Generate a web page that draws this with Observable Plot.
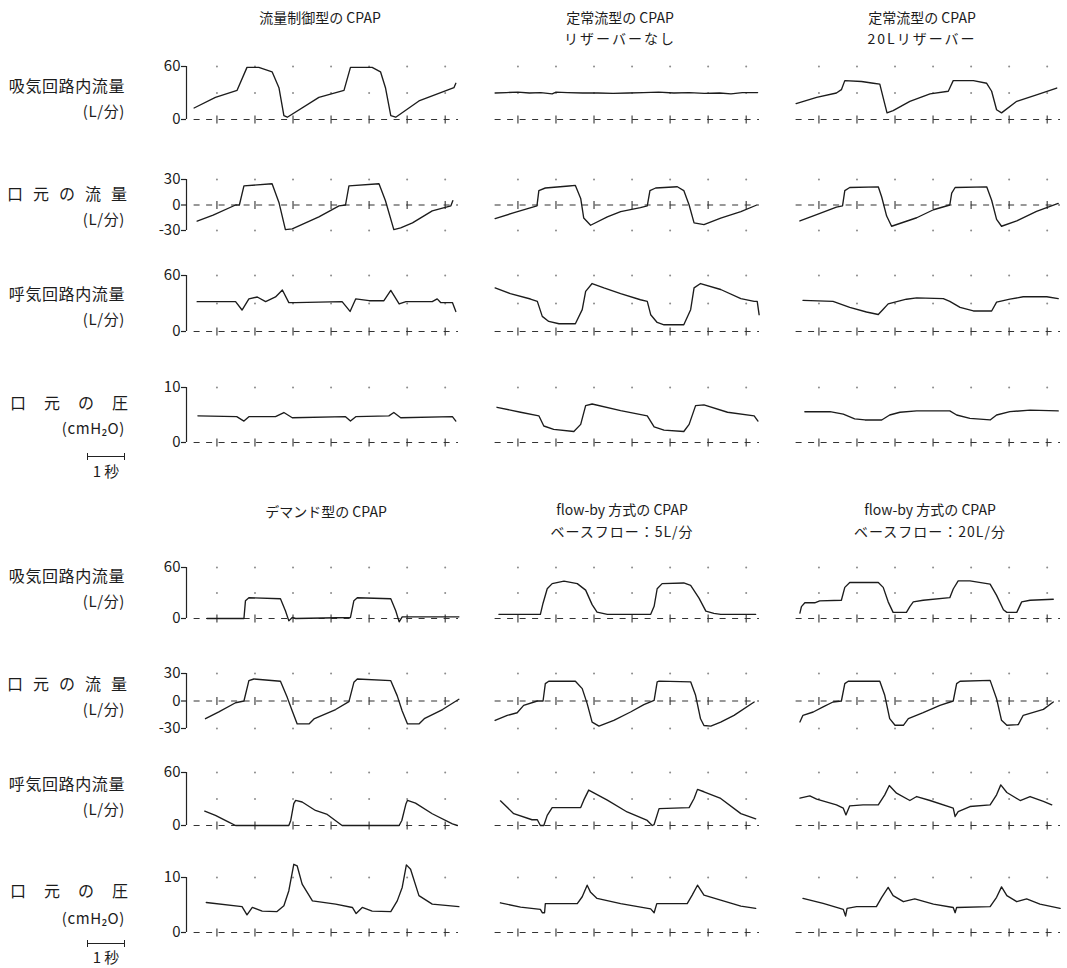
<!DOCTYPE html>
<html><head><meta charset="utf-8">
<script src="https://cdn.jsdelivr.net/npm/d3@7"></script>
<script src="https://cdn.jsdelivr.net/npm/@observablehq/plot@0.6"></script>
<style>
body{margin:0;background:#fff;}
#root{position:relative;width:1067px;height:968px;font-family:"Noto Sans CJK JP","Noto Sans",sans-serif;color:#1c1c1c;overflow:hidden;}
.t{position:absolute;white-space:nowrap;transform:translate(-50%,-50%);font-size:14px;line-height:1;}
.lab{position:absolute;white-space:nowrap;transform:translateY(-50%);right:942px;font-size:16px;line-height:1;letter-spacing:0.6px;}
.sp{position:absolute;transform:translateY(-50%);display:flex;justify-content:space-between;font-size:16px;line-height:1;}
.row{position:absolute;left:0;}
.bar{position:absolute;height:0;border-top:1.2px solid #222;}
.bar:before,.bar:after{content:"";position:absolute;top:-4px;height:7px;border-left:1.2px solid #222;}
.bar:before{left:0}.bar:after{right:0}
</style></head>
<body><div id="root"></div>
<script>
// ---- time ticks (s) along the zero line ----
const secTicks = [0.6,1.6,2.6,3.6,4.6,5.6,6.6];

// ---- Group 1: 流量制御型 (fc), 定常流型リザーバーなし (cfn), 定常流型20Lリザーバー (cfr) ----
const fcInsp = [[0,13],[0.56,25],[1.13,33],[1.39,59],[1.70,59],[2.05,54],[2.23,36],[2.36,4.5],[2.45,2.6],[3.28,25],[3.94,33],[4.11,59],[4.68,59],[4.90,54],[5.03,36],[5.17,4.5],[5.30,2.6],[5.91,21],[6.83,36],[6.88,41]];
const fcMouth = [[0.08,-19],[0.5,-12],[1.09,0],[1.19,0],[1.31,22.5],[2.05,25],[2.23,3],[2.40,-29],[2.58,-28],[3.28,-14],[3.81,-1],[3.98,0],[4.07,22.5],[4.86,25],[5.03,5],[5.25,-29],[5.43,-27],[5.74,-21],[6.26,-7],[6.75,-1],[6.80,5]];
const fcExp = [[0.08,32],[1.09,32],[1.26,23],[1.44,35],[1.66,37],[1.88,32],[2.14,37],[2.32,44.5],[2.49,31],[2.67,31],[3.89,32],[4.10,21.5],[4.25,35],[4.60,33],[4.99,33],[5.17,44],[5.39,29.5],[5.57,32],[6.26,32],[6.39,35],[6.48,31],[6.79,31],[6.88,21.5]];
const fcPres = [[0.1,4.85],[1.12,4.7],[1.31,3.9],[1.44,4.7],[2.14,4.7],[2.36,5.45],[2.58,4.5],[3.98,4.7],[4.11,3.9],[4.25,4.7],[5.12,4.85],[5.25,5.45],[5.43,4.5],[6.79,4.7],[6.88,3.9]];

const cfnInsp = [[0,30],[0.3,30.5],[0.6,31],[0.9,30],[1.2,30.5],[1.5,29],[1.6,31],[1.9,30.5],[2.3,30],[2.7,30],[3.1,29.5],[3.5,30],[3.9,30.5],[4.3,31],[4.7,30],[5.1,30.5],[5.5,29.5],[5.9,30],[6.2,29],[6.5,30.5],[6.9,30.5]];
const cfnMouth = [[0,-16],[0.5,-9],[1.1,-1],[1.15,17],[1.32,20],[1.94,22.3],[2.11,23],[2.25,7.7],[2.33,-15.4],[2.51,-23.8],[2.95,-14],[3.30,-7.7],[3.82,-3],[4.0,-1],[4.07,17],[4.22,20],[4.79,21.5],[4.96,17],[5.10,0],[5.23,-21],[5.49,-23],[5.93,-15.4],[6.46,-7.7],[6.88,0]];
const cfnExp = [[0,46.7],[0.4,40.6],[0.93,34.8],[1.11,32.3],[1.24,16.2],[1.41,10.8],[1.68,8.3],[2.11,8.3],[2.29,23.4],[2.38,43],[2.55,51.4],[2.86,46.7],[3.30,40.6],[3.82,34],[4.0,32.3],[4.09,18],[4.26,9.7],[4.44,7.2],[4.96,7.2],[5.14,23.4],[5.23,46.7],[5.40,51.4],[5.93,45],[6.46,35.2],[6.81,32.3],[6.89,32.3],[6.94,18]];
const cfnPres = [[0.05,6.4],[0.67,5.5],[1.15,4.85],[1.28,3.0],[1.54,2.4],[2.07,2.0],[2.25,3.3],[2.38,6.7],[2.55,7.0],[3.30,5.8],[4.0,4.85],[4.18,2.85],[4.44,2.25],[4.96,2.0],[5.10,3.3],[5.27,6.7],[5.49,6.85],[6.11,5.5],[6.81,4.85],[6.91,3.9]];

const cfrInsp = [[0,18],[0.54,25],[1.06,30],[1.19,33.8],[1.28,44],[1.72,43],[2.03,41],[2.20,40],[2.29,24.4],[2.39,7.5],[2.55,10],[2.99,20.6],[3.52,29],[4.0,32],[4.04,35.6],[4.13,44],[4.66,44],[5.01,41],[5.14,32],[5.27,11],[5.40,7.5],[5.80,20.6],[6.32,28],[6.85,35.6]];
const cfrMouth = [[0.1,-18.75],[0.54,-11.25],[1.06,-2.6],[1.22,-1.1],[1.28,16.9],[1.41,20.6],[2.16,21.4],[2.25,9.4],[2.38,-13],[2.51,-25],[3.17,-15],[3.61,-5.6],[4.04,0],[4.09,13.9],[4.18,20.6],[5.01,21.4],[5.14,5.6],[5.27,-16.9],[5.40,-25],[5.80,-18.75],[6.32,-7.5],[6.89,1.9]];
const cfrExp = [[0.18,33.4],[0.97,32.3],[1.41,25.8],[1.85,20.9],[2.16,18.2],[2.29,23.9],[2.42,29.6],[2.90,34.6],[3.17,36],[3.87,35.3],[4.04,32.3],[4.31,25.8],[4.66,22],[5.14,22],[5.27,31.5],[5.62,34.6],[5.97,37.2],[6.59,37.2],[6.89,35.3]];
const cfrPres = [[0.23,5.6],[0.89,5.6],[1.24,5.15],[1.54,4.3],[1.81,4.1],[2.25,4.1],[2.46,5.0],[2.73,5.5],[3.17,5.75],[4.04,5.75],[4.22,5.0],[4.57,4.4],[5.10,4.1],[5.27,5.0],[5.62,5.6],[6.15,5.9],[6.89,5.75]];

// ---- Group 2: デマンド型 (dm), flow-by 5L/分 (fb5), flow-by 20L/分 (fb20) ----
const dmInsp = [[0.34,0],[1.31,0],[1.35,21],[1.44,24.4],[2.27,23.2],[2.40,9.2],[2.49,-2.8],[2.58,1.2],[2.67,0],[4.11,1.2],[4.20,21],[4.29,24.4],[5.17,23.2],[5.30,9.2],[5.39,-4],[5.47,2],[6.96,2]];
const dmMouth = [[0.30,-19.3],[0.65,-11.9],[1.09,-1.9],[1.31,0],[1.44,22.2],[1.57,24],[2.27,21.5],[2.45,3.7],[2.58,-11],[2.71,-25],[3.02,-25],[3.15,-19.6],[3.72,-9.3],[4.07,-0.7],[4.20,20.4],[4.29,24],[5.17,22.2],[5.34,5.6],[5.47,-11],[5.61,-25],[5.91,-25],[6.05,-19.3],[6.53,-9.3],[6.96,1.9]];
const dmExp = [[0.28,16.3],[0.56,11.4],[0.91,3.8],[1.09,0],[2.49,0],[2.54,5.7],[2.62,24.7],[2.67,28.5],[2.84,26.6],[3.19,17],[3.50,12.5],[3.89,0],[5.39,0],[5.46,5.7],[5.57,24.7],[5.61,28.5],[5.82,25.4],[6.26,13.3],[6.79,1.9],[6.92,0]];
const dmPres = [[0.32,5.45],[1.26,4.7],[1.39,3.2],[1.53,4.55],[1.79,3.9],[2.18,3.8],[2.36,4.85],[2.49,7.6],[2.62,12.4],[2.71,12.1],[2.84,8.8],[3.11,5.75],[3.72,5.15],[4.16,4.55],[4.26,3.45],[4.42,4.55],[4.68,3.9],[5.17,3.8],[5.34,5.75],[5.47,8.2],[5.58,12.3],[5.69,11.5],[5.91,6.7],[6.26,5.15],[6.96,4.7]];

const fb5Insp = [[0.1,4.9],[1.19,4.9],[1.26,18],[1.37,35],[1.50,41],[1.81,44],[2.16,41],[2.38,33.4],[2.55,16.3],[2.68,7.6],[2.95,4.9],[4.09,4.9],[4.18,14.4],[4.26,35],[4.39,41],[4.96,41.8],[5.14,39],[5.36,24],[5.54,8.7],[5.75,6],[5.93,4.9],[6.85,4.9]];
const fb5Mouth = [[0,-21.2],[0.32,-15.7],[0.58,-12.8],[0.75,-4.8],[1.11,0],[1.26,0],[1.32,19],[1.41,21.6],[2.11,21.6],[2.29,13.5],[2.42,-2.9],[2.55,-23],[2.73,-27.4],[3.12,-21.2],[3.56,-12],[3.91,-4],[4.18,0.7],[4.26,20.9],[4.31,21.6],[5.14,20.9],[5.27,6.2],[5.40,-19.4],[5.49,-26.7],[5.67,-27.4],[5.93,-23],[6.28,-15.7],[6.81,-1.1]];
const fb5Exp = [[0.14,27.9],[0.49,13.4],[0.97,6.5],[1.11,6.5],[1.19,0],[1.28,0],[1.37,11.5],[1.50,20.3],[2.25,20.3],[2.33,28.7],[2.46,40.1],[2.95,28.7],[3.47,15.3],[4.0,5.7],[4.13,0],[4.18,1.1],[4.31,19.1],[5.10,20.3],[5.23,30.6],[5.32,40.9],[5.49,38.2],[5.93,30.6],[6.46,13.4],[6.85,7.6]];
const fb5Pres = [[0.14,5.4],[0.67,4.6],[1.19,4.2],[1.24,3.6],[1.30,3.6],[1.32,5.25],[2.16,5.25],[2.29,6.5],[2.42,8.6],[2.51,7.3],[2.68,6.2],[3.30,5.25],[4.09,4.3],[4.18,3.6],[4.25,5.25],[5.05,5.25],[5.18,6.8],[5.32,8.6],[5.49,6.8],[5.93,5.9],[6.46,4.8],[6.85,4.4]];

const fb20Insp = [[0.1,6.4],[0.14,14],[0.23,18.5],[0.49,18.5],[0.62,20.8],[1.19,21.5],[1.28,36.6],[1.41,42.3],[2.16,42.3],[2.29,36.6],[2.42,19.6],[2.55,7.2],[2.90,7.2],[2.99,14],[3.08,19.6],[3.34,21.5],[4.04,24.5],[4.13,34.7],[4.26,44.2],[4.57,44.2],[5.10,40.4],[5.27,27.2],[5.45,10.2],[5.54,7.2],[5.80,7.2],[5.93,19.6],[6.15,21.5],[6.76,22.6]];
const fb20Mouth = [[0.1,-22.9],[0.18,-15.6],[0.45,-12],[0.71,-6.5],[0.97,-1.1],[1.19,0],[1.28,18.9],[1.37,21.5],[2.20,21.5],[2.33,6.2],[2.46,-19.3],[2.60,-26.5],[2.82,-26.5],[2.95,-19.3],[3.34,-12.7],[3.78,-4.7],[4.13,0],[4.22,18.9],[4.31,21.5],[5.10,22.5],[5.27,2.5],[5.40,-21.1],[5.54,-26.5],[5.84,-25.8],[5.97,-15.6],[6.50,-9.1],[6.76,-1.1]];
const fb20Exp = [[0.1,31],[0.36,33.6],[0.54,29.8],[1.06,23.4],[1.24,19.6],[1.31,12],[1.41,22.3],[1.76,23.4],[2.16,23.4],[2.33,34.7],[2.45,45.3],[2.64,36.6],[2.99,28.3],[3.17,32.8],[3.52,28.3],[4.13,19.6],[4.18,10.2],[4.26,15.8],[4.57,21.5],[5.10,23.4],[5.27,34.7],[5.38,46],[5.54,37.4],[5.89,28.3],[6.15,32.8],[6.50,27.2],[6.72,23.4]];
const fb20Pres = [[0.18,6.2],[0.71,5.3],[1.24,4.2],[1.30,3.0],[1.34,4.4],[1.59,4.7],[2.11,4.7],[2.25,6.4],[2.42,8.2],[2.55,6.7],[2.82,5.6],[3.12,6.1],[3.61,5.15],[4.13,4.55],[4.18,3.6],[4.22,4.55],[5.10,4.7],[5.27,6.4],[5.40,8.3],[5.54,6.7],[5.80,5.6],[6.06,6.1],[6.41,5.15],[6.94,4.4]];

// ---- axis definitions ----
const flowDomain = [0,60], flowTicks = [0,60], flowGrid = [30,60];
const mouthDomain = [-30,30], mouthTicks = [-30,0,30], mouthGrid = [-30,30];
const presDomain = [0,10], presTicks = [0,10], presGrid = [10];

// ---- text ----
const titles = [
  {x:320,y:17,s:"流量制御型の CPAP"},
  {x:620,y:17,s:"定常流型の CPAP"},{x:620,y:38,s:"リザーバーなし",ls:2},
  {x:922,y:17,s:"定常流型の CPAP"},{x:922,y:38,s:"20Lリザーバー",ls:2},
  {x:326,y:511,s:"デマンド型の CPAP"},
  {x:622,y:509,s:"flow-by 方式の CPAP"},{x:622,y:531,s:"ベースフロー：5L/分",ls:1},
  {x:930,y:509,s:"flow-by 方式の CPAP"},{x:930,y:531,s:"ベースフロー：20L/分",ls:1}
];
const groupLabels = [
  {name:"吸気回路内流量", unit:"(L/分)"},
  {name:"口元の流量", unit:"(L/分)", spread:true},
  {name:"呼気回路内流量", unit:"(L/分)"},
  {name:"口元の圧", unit:"(cmH₂O)", spread:true}
];
const scaleLabel = "1 秒";

const rowsG1 = [
  {top:66,bottom:119,series:[fcInsp,cfnInsp,cfrInsp],domain:flowDomain,ticks:flowTicks,grid:flowGrid},
  {top:179,bottom:230,series:[fcMouth,cfnMouth,cfrMouth],domain:mouthDomain,ticks:mouthTicks,grid:mouthGrid},
  {top:275,bottom:331,series:[fcExp,cfnExp,cfrExp],domain:flowDomain,ticks:flowTicks,grid:flowGrid},
  {top:387,bottom:442,series:[fcPres,cfnPres,cfrPres],domain:presDomain,ticks:presTicks,grid:presGrid}
];
const rowsG2 = [
  {top:567,bottom:618,series:[dmInsp,fb5Insp,fb20Insp],domain:flowDomain,ticks:flowTicks,grid:flowGrid},
  {top:673,bottom:728,series:[dmMouth,fb5Mouth,fb20Mouth],domain:mouthDomain,ticks:mouthTicks,grid:mouthGrid},
  {top:772,bottom:825,series:[dmExp,fb5Exp,fb20Exp],domain:flowDomain,ticks:flowTicks,grid:flowGrid},
  {top:877,bottom:932,series:[dmPres,fb5Pres,fb20Pres],domain:presDomain,ticks:presTicks,grid:presGrid}
];
const labelY = [[85,110],[193,218],[293,318],[402,427],[575,600],[683,708],[783,808],[890,917]];
const scaleBars = [{y:456,ty:470},{y:943,ty:956}];

const root = document.getElementById("root");
const vbar = {draw(ctx){ctx.moveTo(0,-4);ctx.lineTo(0,4);}};

function rowPlot(r){
  const mt = 12, mb = 12;
  const h = r.bottom - r.top;
  const table = r.series.flatMap((s,i)=>s.map(([t,v])=>({col:i,t,v})));
  const grid = r.grid.flatMap(g=>secTicks.map(t=>({t,v:g})));
  const zero = secTicks.map(t=>({t,v:0}));
  return Plot.plot({
    width:1067, height:h+mt+mb,
    marginLeft:185, marginRight:7, marginTop:mt, marginBottom:mb,
    x:{domain:[-0.2,6.95], axis:null},
    y:{domain:r.domain, axis:null},
    fx:{domain:[0,1,2], paddingInner:0.098, paddingOuter:0, axis:null},
    style:{fontFamily:'"Noto Sans CJK JP","Noto Sans",sans-serif', fontSize:"15px", color:"#1c1c1c", background:"transparent", overflow:"visible"},
    marks:[
      Plot.dot(grid,{x:"t",y:"v",r:1,fill:"#8c8c8c",stroke:null}),
      Plot.ruleY([{y:0,x1:0,x2:6.95}],{y:"y",x1:"x1",x2:"x2",stroke:"#333",strokeWidth:1.1,strokeDasharray:"6,6.5"}),
      Plot.dot(zero,{x:"t",y:"v",symbol:vbar,stroke:"#333",strokeWidth:1.1,fill:"none"}),
      Plot.line(table,{x:"t",y:"v",fx:"col",stroke:"#1c1c1c",strokeWidth:1.35}),
      Plot.ruleX([{col:0,x:-0.2,y1:r.domain[0],y2:r.domain[1]}],{x:"x",y1:"y1",y2:"y2",fx:"col",stroke:"#222",strokeWidth:1.2}),
      Plot.axisY({ticks:r.ticks, tickFormat:d=>String(d), tickSize:5, tickPadding:1, fontSize:15, facetAnchor:"left", stroke:"#222", strokeWidth:1.2})
    ]
  });
}

[...rowsG1, ...rowsG2].forEach(r=>{
  const d = document.createElement("div");
  d.className = "row";
  d.style.top = (r.top - 12) + "px";
  d.appendChild(rowPlot(r));
  root.appendChild(d);
});

titles.forEach(t=>{
  const d = document.createElement("div");
  d.className = "t"; d.textContent = t.s;
  d.style.left = t.x+"px"; d.style.top = t.y+"px";
  if (t.ls) d.style.letterSpacing = t.ls+"px";
  root.appendChild(d);
});

labelY.forEach(([y1,y2],i)=>{
  const g = groupLabels[i%4];
  if (g.spread){
    const d = document.createElement("div");
    d.className = "sp";
    d.style.left = (g.name.length===4?10:7)+"px";
    d.style.width = (g.name.length===4?118:120)+"px";
    d.style.top = y1+"px";
    [...g.name].forEach(ch=>{const s=document.createElement("span");s.textContent=ch;d.appendChild(s);});
    root.appendChild(d);
  } else {
    const d = document.createElement("div");
    d.className = "lab"; d.textContent = g.name; d.style.top = y1+"px";
    root.appendChild(d);
  }
  const u = document.createElement("div");
  u.className = "lab"; u.textContent = g.unit; u.style.top = y2+"px"; u.style.fontSize="15px";
  root.appendChild(u);
});

scaleBars.forEach(b=>{
  const bar = document.createElement("div");
  bar.className = "bar"; bar.style.left="87px"; bar.style.width="38px"; bar.style.top=b.y+"px";
  root.appendChild(bar);
  const t = document.createElement("div");
  t.className = "t"; t.textContent = scaleLabel; t.style.left="106px"; t.style.top=b.ty+"px"; t.style.fontSize="15px";
  root.appendChild(t);
});
</script></body></html>
